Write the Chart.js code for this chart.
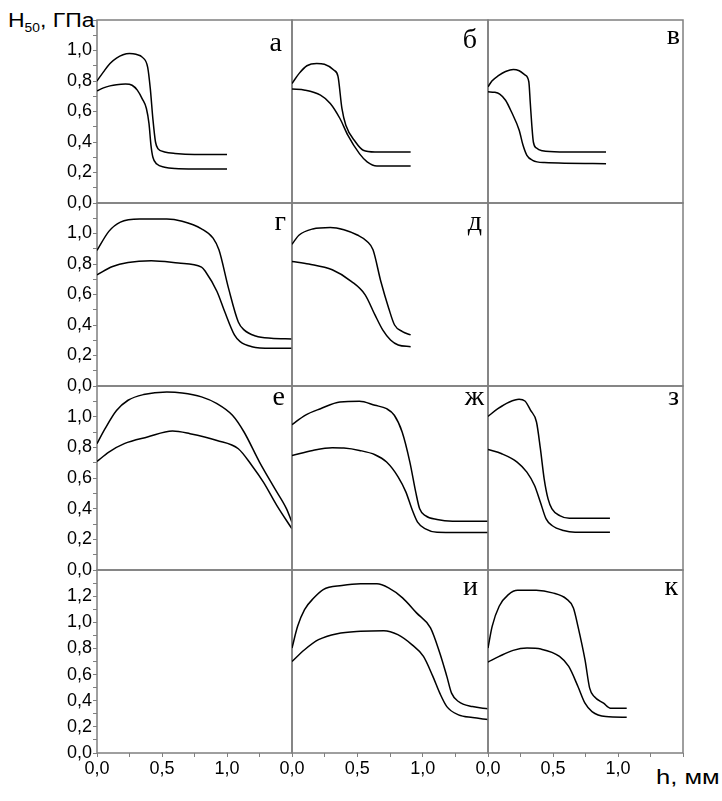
<!DOCTYPE html>
<html>
<head>
<meta charset="utf-8">
<script src="https://cdn.jsdelivr.net/npm/chart.js@4.4.0/dist/chart.umd.min.js"></script>
<style>
  body { margin: 0; background: #fff; width: 722px; height: 801px; position: relative; overflow: hidden; font-family: "Liberation Sans", Arial, sans-serif; }
  canvas { position: absolute; }
  .ytitle { position: absolute; left: 8px; top: 10px; font-size: 20px; line-height: 20px; white-space: nowrap; transform: scaleX(1.15); transform-origin: left top; }
  .ytitle sub { font-size: 12px; vertical-align: -5px; }
  .xtitle { position: absolute; left: 656px; top: 767px; font-size: 20px; line-height: 20px; white-space: nowrap; transform: scaleX(1.28); transform-origin: left top; }
</style>
</head>
<body>
<div class="ytitle">H<sub>50</sub>, ГПа</div>
<div class="xtitle">h, мм</div>
<script>
// curves: [h, H50] pairs, upper and lower per panel
const aUpper = [[0,0.80],[0.05,0.86],[0.1,0.915],[0.15,0.95],[0.2,0.972],[0.25,0.98],[0.3,0.975],[0.35,0.955],[0.39,0.89],[0.41,0.75],[0.43,0.55],[0.45,0.40],[0.47,0.355],[0.52,0.335],[0.6,0.325],[0.75,0.318],[1.0,0.318]];
const aLower = [[0,0.735],[0.05,0.755],[0.1,0.768],[0.15,0.776],[0.22,0.78],[0.27,0.772],[0.31,0.74],[0.35,0.68],[0.38,0.62],[0.4,0.52],[0.415,0.38],[0.43,0.30],[0.46,0.255],[0.52,0.235],[0.6,0.226],[0.75,0.223],[1.0,0.223]];
const bUpper = [[0,0.784],[0.055,0.85],[0.114,0.90],[0.189,0.915],[0.248,0.91],[0.322,0.87],[0.352,0.83],[0.382,0.62],[0.412,0.51],[0.486,0.40],[0.545,0.346],[0.635,0.335],[0.908,0.335]];
const bLower = [[0,0.747],[0.1,0.74],[0.218,0.707],[0.293,0.653],[0.367,0.554],[0.427,0.445],[0.516,0.324],[0.575,0.27],[0.65,0.243],[0.908,0.243]];
const vUpper = [[0,0.762],[0.03,0.80],[0.08,0.835],[0.135,0.862],[0.195,0.876],[0.24,0.867],[0.284,0.84],[0.314,0.795],[0.325,0.66],[0.337,0.51],[0.349,0.40],[0.373,0.36],[0.418,0.342],[0.551,0.335],[0.908,0.335]];
const vLower = [[0,0.729],[0.05,0.726],[0.09,0.714],[0.135,0.674],[0.18,0.598],[0.24,0.477],[0.269,0.38],[0.299,0.313],[0.343,0.28],[0.433,0.265],[0.908,0.258]];
const gUpper = [[0,0.889],[0.091,1.014],[0.18,1.075],[0.328,1.095],[0.537,1.095],[0.655,1.08],[0.804,1.031],[0.893,0.97],[0.938,0.893],[1.012,0.64],[1.087,0.42],[1.131,0.368],[1.22,0.328],[1.339,0.313],[1.5,0.309]];
const gLower = [[0,0.729],[0.12,0.784],[0.239,0.81],[0.418,0.821],[0.626,0.806],[0.804,0.78],[0.834,0.751],[0.923,0.62],[0.982,0.488],[1.057,0.335],[1.101,0.291],[1.191,0.258],[1.339,0.247],[1.5,0.247]];
const dUpper = [[0,0.93],[0.055,0.99],[0.159,1.03],[0.293,1.04],[0.397,1.025],[0.5,0.99],[0.575,0.948],[0.62,0.893],[0.68,0.685],[0.74,0.51],[0.785,0.40],[0.845,0.357],[0.908,0.335]];
const dLower = [[0,0.817],[0.129,0.80],[0.308,0.762],[0.456,0.685],[0.56,0.598],[0.635,0.466],[0.694,0.368],[0.754,0.302],[0.813,0.269],[0.908,0.258]];
const eUpper = [[0,0.824],[0.061,0.92],[0.15,1.04],[0.239,1.107],[0.358,1.144],[0.537,1.161],[0.655,1.155],[0.804,1.129],[0.923,1.085],[1.042,1.009],[1.131,0.90],[1.25,0.704],[1.369,0.529],[1.458,0.399],[1.5,0.31]];
const eLower = [[0,0.708],[0.091,0.769],[0.21,0.824],[0.388,0.867],[0.581,0.906],[0.715,0.889],[0.923,0.845],[1.087,0.791],[1.191,0.682],[1.28,0.573],[1.384,0.42],[1.5,0.268]];
const zhUpper = [[0,0.948],[0.1,1.009],[0.218,1.052],[0.367,1.096],[0.516,1.10],[0.635,1.074],[0.724,1.052],[0.783,1.009],[0.843,0.90],[0.902,0.704],[0.947,0.508],[0.977,0.399],[1.021,0.355],[1.11,0.329],[1.229,0.318],[1.5,0.318]];
const zhLower = [[0,0.747],[0.159,0.78],[0.308,0.797],[0.397,0.795],[0.516,0.78],[0.635,0.752],[0.724,0.704],[0.813,0.606],[0.872,0.508],[0.917,0.399],[0.961,0.312],[1.021,0.268],[1.11,0.246],[1.5,0.244]];
const zUpper = [[0,1.002],[0.076,1.052],[0.165,1.096],[0.239,1.113],[0.284,1.102],[0.328,1.041],[0.373,0.965],[0.403,0.791],[0.432,0.595],[0.462,0.464],[0.492,0.399],[0.551,0.355],[0.626,0.338],[0.938,0.338]];
const zLower = [[0,0.786],[0.106,0.758],[0.224,0.704],[0.299,0.638],[0.358,0.551],[0.403,0.442],[0.447,0.333],[0.492,0.29],[0.581,0.257],[0.67,0.246],[0.938,0.246]];
const iUpper = [[0,0.803],[0.043,0.969],[0.096,1.097],[0.168,1.187],[0.239,1.25],[0.382,1.281],[0.525,1.294],[0.65,1.294],[0.739,1.263],[0.846,1.187],[0.953,1.072],[1.06,0.957],[1.131,0.765],[1.185,0.586],[1.221,0.458],[1.274,0.394],[1.381,0.355],[1.5,0.338]];
const iLower = [[0,0.70],[0.096,0.79],[0.203,0.867],[0.346,0.913],[0.525,0.931],[0.703,0.936],[0.81,0.905],[0.917,0.829],[1.006,0.739],[1.078,0.586],[1.131,0.458],[1.185,0.355],[1.274,0.292],[1.381,0.271],[1.5,0.256]];
const kUpper = [[0,0.803],[0.032,0.969],[0.086,1.123],[0.157,1.212],[0.228,1.245],[0.371,1.245],[0.496,1.225],[0.603,1.179],[0.657,1.11],[0.692,0.969],[0.746,0.714],[0.782,0.496],[0.817,0.432],[0.889,0.381],[0.942,0.343],[1.067,0.343]];
const kLower = [[0,0.696],[0.086,0.739],[0.193,0.785],[0.30,0.803],[0.407,0.795],[0.55,0.739],[0.621,0.662],[0.692,0.509],[0.746,0.381],[0.80,0.317],[0.906,0.279],[1.067,0.274]];

// grid of panels, row by row (empty string = empty panel)
const letters = ['а', 'б', 'в', 'г', 'д', '', 'е', 'ж', 'з', '', 'и', 'к'];
const uppers = [aUpper, bUpper, vUpper, gUpper, dUpper, null, eUpper, zhUpper, zUpper, null, iUpper, kUpper];
const lowers = [aLower, bLower, vLower, gLower, dLower, null, eLower, zhLower, zLower, null, iLower, kLower];

// axes
const xMax = 1.5, xStep = 0.25;
const yMax = [1.2, 1.2, 1.2, 1.4];
const yLabelTop = [1.0, 1.0, 1.0, 1.2];
const yStep = 0.1;

// layout (pixels)
const colX = [97, 292, 488, 683];
const rowY = [20, 203, 386, 570, 753];
const pad = 16;
// letter position: [offset from right edge, baseline below top]
const letterPos = [[10, 31], [11, 28], [3, 24], [6, 27], [6, 27], null, [7, 19], [4, 19], [4, 19], null, [10, 25], [5, 25]];

const fmt = v => v.toFixed(1).replace('.', ',');
const lineColor = '#7f7f7f';
const tickFont = { family: '"Liberation Sans", Arial, sans-serif', size: 18 };

const framePlugin = {
  id: 'frame',
  beforeDatasetsDraw(chart) {
    const { ctx, chartArea: a } = chart;
    ctx.save();
    ctx.strokeStyle = lineColor;
    ctx.lineWidth = 1.5;
    ctx.strokeRect(a.left, a.top, a.right - a.left, a.bottom - a.top);
    ctx.restore();
  }
};

const letterPlugin = {
  id: 'panelLetter',
  afterDraw(chart, args, opts) {
    if (!opts.text) return;
    const { ctx, chartArea: a } = chart;
    ctx.save();
    ctx.font = '28px "Liberation Serif", "Times New Roman", serif';
    ctx.fillStyle = '#000';
    ctx.textAlign = 'right';
    ctx.textBaseline = 'alphabetic';
    ctx.fillText(opts.text, a.right - opts.dx, a.top + opts.dy);
    ctx.restore();
  }
};

letters.forEach((letter, n) => {
  const row = Math.floor(n / 3), col = n % 3;
  const showX = row === 3, showY = col === 0;
  const left = showY ? 0 : colX[col] - pad;
  const right = colX[col + 1] + pad;
  const top = rowY[row] - pad;
  const bottom = showX ? 801 : rowY[row + 1] + pad;

  const canvas = document.createElement('canvas');
  canvas.width = right - left;
  canvas.height = bottom - top;
  canvas.style.left = left + 'px';
  canvas.style.top = top + 'px';
  document.body.appendChild(canvas);

  const datasets = [];
  [uppers[n], lowers[n]].forEach(curve => {
    if (!curve) return;
    datasets.push({
      data: curve.map(([x, y]) => ({ x, y })),
      showLine: true,
      borderColor: '#000',
      borderWidth: 1.5,
      pointRadius: 0,
      cubicInterpolationMode: 'monotone'
    });
  });

  const pos = letterPos[n] || [0, 0];

  new Chart(canvas, {
    type: 'scatter',
    data: { datasets },
    options: {
      responsive: false,
      animation: false,
      events: [],
      layout: { padding: { left: showY ? 0 : pad, right: pad, top: pad, bottom: showX ? 0 : pad } },
      plugins: {
        legend: { display: false },
        tooltip: { enabled: false },
        panelLetter: { text: letter, dx: pos[0], dy: pos[1] }
      },
      scales: {
        x: {
          type: 'linear', min: 0, max: xMax,
          display: showX,
          afterFit: s => { s.height = showX ? 801 - rowY[4] : 0; },
          border: { display: false },
          grid: { drawOnChartArea: false, drawTicks: true, tickLength: 4, tickColor: lineColor, tickWidth: 1 },
          ticks: {
            stepSize: xStep, autoSkip: false, maxRotation: 0, padding: 1, color: '#000', font: tickFont,
            callback: v => {
              const k = Math.round(v / xStep);
              return (k % 2 === 0 && v < xMax - 0.01) ? fmt(v) : '';
            }
          }
        },
        y: {
          type: 'linear', min: 0, max: yMax[row],
          display: showY,
          afterFit: s => { s.width = showY ? colX[0] : 0; },
          border: { display: false },
          grid: { drawOnChartArea: false, drawTicks: true, tickLength: 4, tickColor: lineColor, tickWidth: 1 },
          ticks: {
            stepSize: yStep, autoSkip: false, padding: 1, color: '#000', font: tickFont,
            callback: v => {
              const k = Math.round(v / yStep);
              return (k % 2 === 0 && v <= yLabelTop[row] + 0.01) ? fmt(v) : '';
            }
          }
        }
      }
    },
    plugins: [framePlugin, letterPlugin]
  });
});
</script>
</body>
</html>
